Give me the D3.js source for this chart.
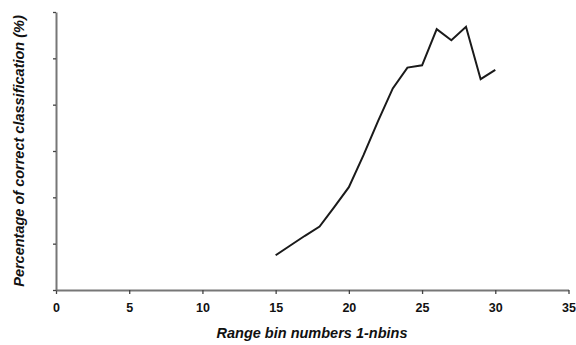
<!DOCTYPE html>
<html>
<head>
<meta charset="utf-8">
<script src="https://cdn.jsdelivr.net/npm/d3@7"></script>
<style>
  body { margin: 0; background: #fff; }
  .tick text { font-family: "Liberation Sans", Arial, sans-serif; font-weight: bold; font-size: 12.5px; fill: #111; }
  .title { font-family: "Liberation Sans", Arial, sans-serif; font-weight: bold; font-style: italic; font-size: 14.5px; fill: #111; }
</style>
</head>
<body>
<script>
// range bin numbers and percentage of correct classification (y axis is unlabelled)
var bins = [15, 16, 17, 18, 19, 20, 21, 22, 23, 24, 25, 26, 27, 28, 29, 30]
var percent = [7.5, 9.6, 11.7, 13.7, 17.9, 22.2, 29.1, 36.5, 43.5, 48.0, 48.5, 56.3, 53.9, 56.8, 45.5, 47.5]
var xTicks = [0, 5, 10, 15, 20, 25, 30, 35]
var yTicks = [0, 10, 20, 30, 40, 50, 60]

var width = 576, height = 345
var margin = {left: 56, right: 8, top: 12, bottom: 55}

var svg = d3.select("body").append("svg")
    .attr("width", width)
    .attr("height", height)

var x = d3.scaleLinear().domain([0, 35]).range([margin.left, 568.5])
var y = d3.scaleLinear().domain([0, 60]).range([height - margin.bottom, margin.top])

// x axis
var xAxis = svg.append("g")
    .attr("transform", "translate(0," + y(0) + ")")
    .call(d3.axisBottom(x).tickValues(xTicks).tickSize(4).tickPadding(9).tickSizeOuter(0))
xAxis.select(".domain").attr("stroke", "#777").attr("stroke-width", 2)
xAxis.selectAll(".tick line").attr("stroke", "#444").attr("stroke-width", 1.3)

// y axis, ticks without labels
var yAxis = svg.append("g")
    .attr("transform", "translate(" + x(0) + ",0)")
    .call(d3.axisLeft(y).tickValues(yTicks).tickSize(3).tickFormat("").tickSizeOuter(0))
yAxis.select(".domain").attr("stroke", "#777").attr("stroke-width", 2)
yAxis.selectAll(".tick line").attr("stroke", "#444").attr("stroke-width", 1.3)

// the line
var line = d3.line()
    .x(function(d, i) { return x(bins[i]) })
    .y(function(d) { return y(d) })
svg.append("path")
    .datum(percent)
    .attr("fill", "none")
    .attr("stroke", "#1a1a1a")
    .attr("stroke-width", 2)
    .attr("stroke-linejoin", "miter")
    .attr("d", line)

// axis titles
svg.append("text")
    .attr("class", "title")
    .attr("x", 312)
    .attr("y", 337.5)
    .attr("text-anchor", "middle")
    .text("Range bin numbers 1-nbins")

svg.append("text")
    .attr("class", "title")
    .attr("transform", "translate(23.5," + (y(0) + y(60)) / 2 + ") rotate(-90)")
    .attr("text-anchor", "middle")
    .text("Percentage of correct classification (%)")
</script>
</body>
</html>
